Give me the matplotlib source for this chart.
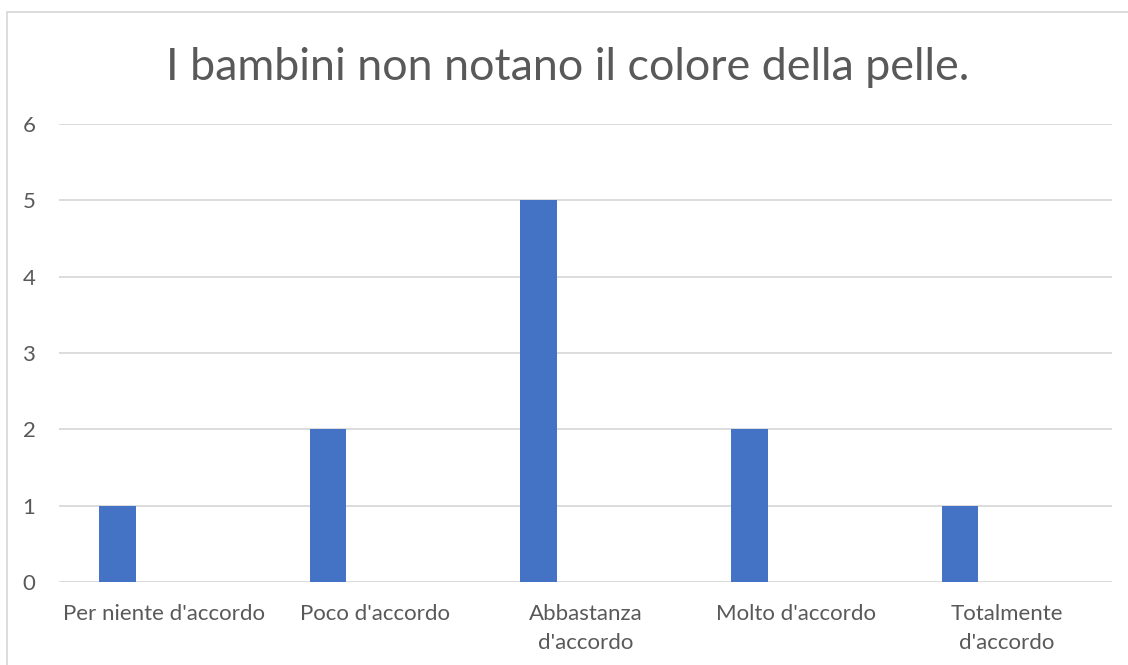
import matplotlib
matplotlib.use("Agg")
import matplotlib.pyplot as plt
from matplotlib.patches import Rectangle

categories = ["Per niente d'accordo", "Poco d'accordo", "Abbastanza\nd'accordo",
              "Molto d'accordo", "Totalmente\nd'accordo"]
values = [1, 2, 5, 2, 1]
y_ticks = [0, 1, 2, 3, 4, 5, 6]
title = "I bambini non notano il colore della pelle."

plt.rcParams['font.family'] = ['Lato', 'DejaVu Sans']
grey = '#595959'
grid = '#d9d9d9'

W, H = 1128, 665
fig = plt.figure(figsize=(W / 100, H / 100), dpi=100)
fig.patch.set_facecolor('white')

# outer chart frame (runs off the right and bottom edges)
fig.add_artist(Rectangle((7 / W, -0.1), 1.2, 1 - 12 / H + 0.1, transform=fig.transFigure,
                         fill=False, edgecolor=grid, linewidth=1.3))

ax = fig.add_axes([59 / W, 1 - 582 / H, (1112 - 59) / W, (582 - 124) / H])
x = list(range(len(categories)))
ax.bar([i - 0.222 for i in x], values, width=0.174, color='#4472C4', zorder=3)

ax.set_xlim(-0.5, len(categories) - 0.5)
ax.set_ylim(0, 6)
ax.set_yticks(y_ticks)
ax.set_xticks(x)
ax.set_xticklabels(categories, linespacing=1.55)
ax.yaxis.grid(True, color=grid, linewidth=1.3, zorder=0)
for s in ax.spines.values():
    s.set_visible(False)
ax.tick_params(axis='y', length=0, pad=17, labelsize=16, labelcolor=grey)
ax.tick_params(axis='x', length=0, pad=16, labelsize=16, labelcolor=grey)

fig.text(568 / W, 1 - 68 / H, title, ha='center', va='center', fontsize=32.3, color=grey)

fig.savefig('out.png', dpi=100)
